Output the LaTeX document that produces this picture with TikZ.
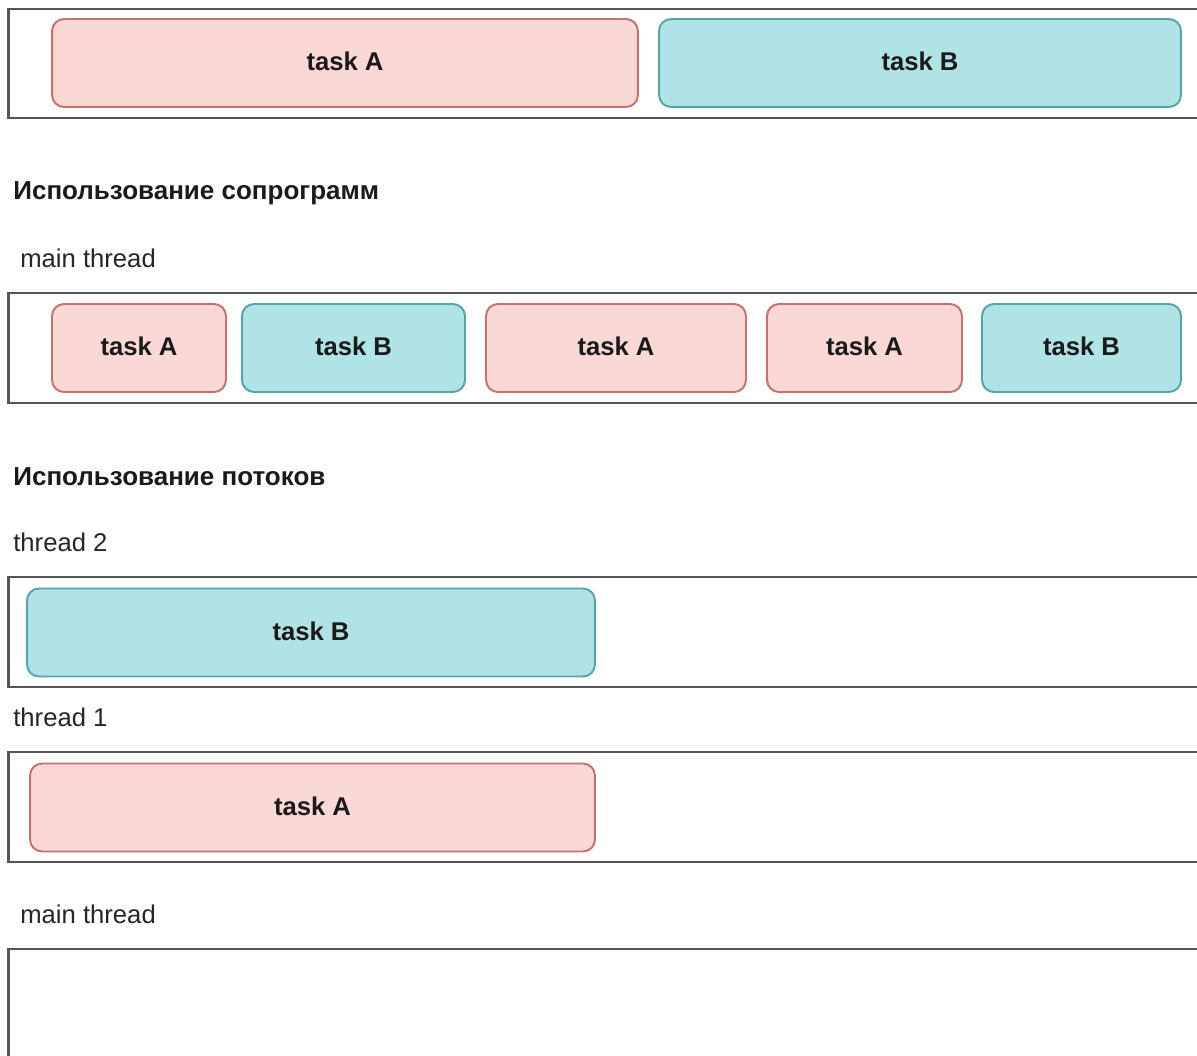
\documentclass[tikz,border=0pt]{standalone}
\usepackage{fontspec}
\setmainfont{Liberation Sans}
\usepackage{tikz}
\usetikzlibrary{positioning}
\definecolor{taskafill}{HTML}{F9D8D5}
\definecolor{taskadraw}{HTML}{C8706A}
\definecolor{taskbfill}{HTML}{B0E3E6}
\definecolor{taskbdraw}{HTML}{52A5A8}
\definecolor{lanegray}{HTML}{555555}
\definecolor{textdark}{HTML}{1A1A1A}

\begin{document}
\begin{tikzpicture}[
    x=0.02cm, y=-0.02cm,
    lane/.style={rectangle, draw=lanegray, line width=1.6pt, fill=white},
    taskbox/.style={rectangle, rounded corners=0.24cm, line width=1.1pt, minimum height=1.76cm,
        text depth=0.15em, font=\fontsize{14.6}{17}\selectfont\bfseries, text=textdark},
    taska/.style={taskbox, fill=taskafill, draw=taskadraw},
    taskb/.style={taskbox, fill=taskbfill, draw=taskbdraw},
    heading/.style={anchor=west, inner sep=0pt, font=\fontsize{14.8}{17}\selectfont\bfseries, text=textdark},
    lanelabel/.style={anchor=west, inner sep=0pt, font=\fontsize{14.6}{17}\selectfont, text=black!85}
]
\clip (0,0) rectangle (1197,1055);
\fill[white] (0,0) rectangle (1197,1055);

% sequential
\node[lane, minimum width=24.24cm, minimum height=2.18cm] (lane1) at (614,63.5) {};
\node[taska, minimum width=11.72cm] (seqa) at (345,63) {task A};
\node[taskb, minimum width=10.44cm] (seqb) at (920,63) {task B};

% coroutines
\node[heading] (headco) at (13,193) {Использование сопрограмм};
\node[lanelabel] (mainco) at (20,258) {main thread};
\node[lane, minimum width=24.24cm, minimum height=2.2cm] (lane2) at (614,348) {};
\node[taska, minimum width=3.48cm] (coa1) at (139,348) {task A};
\node[taskb, minimum width=4.46cm] (cob1) at (353.5,348) {task B};
\node[taska, minimum width=5.2cm] (coa2) at (616,348) {task A};
\node[taska, minimum width=3.9cm] (coa3) at (864.5,348) {task A};
\node[taskb, minimum width=3.98cm] (cob2) at (1081.5,348) {task B};

% threads
\node[heading] (headth) at (13,477) {Использование потоков};
\node[lanelabel] (thtwo) at (13,542) {thread 2};
\node[lane, minimum width=24.24cm, minimum height=2.2cm] (lane3) at (614,632) {};
\node[taskb, minimum width=11.36cm] (thb) at (311,632.5) {task B};
\node[lanelabel] (thone) at (13,717) {thread 1};
\node[lane, minimum width=24.24cm, minimum height=2.2cm] (lane4) at (614,807) {};
\node[taska, minimum width=11.3cm] (tha) at (312.5,807.5) {task A};
\node[lanelabel] (mainth) at (20,914) {main thread};
\node[lane, minimum width=24.24cm, minimum height=3.02cm] (lane5) at (614,1024.5) {};

\end{tikzpicture}
\end{document}
